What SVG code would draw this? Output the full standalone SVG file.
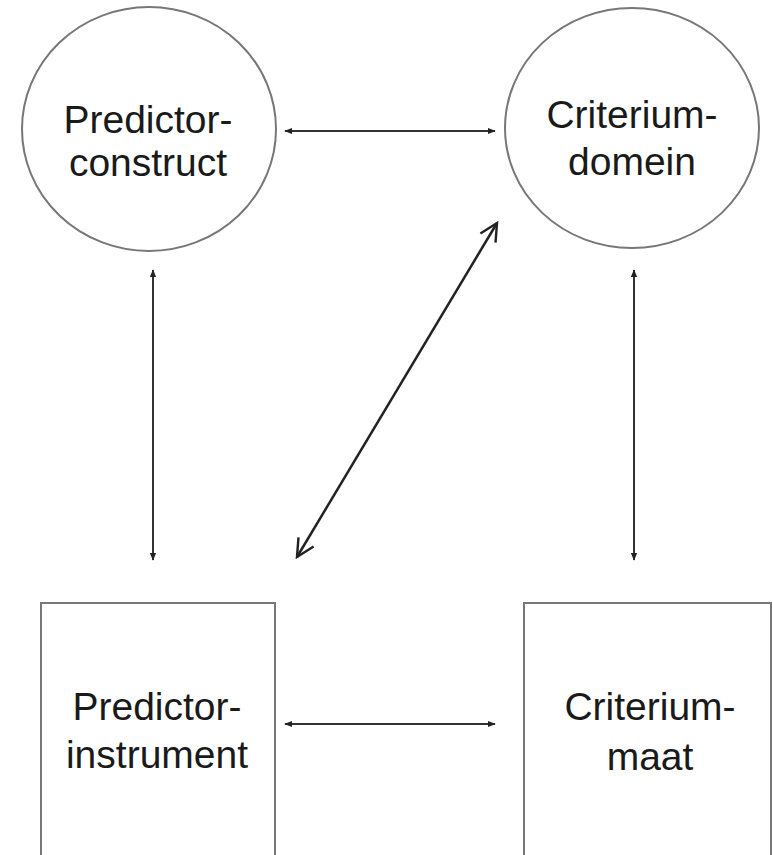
<svg xmlns="http://www.w3.org/2000/svg" width="773" height="855" viewBox="0 0 773 855">
<style>
.node{fill:#fff;stroke:#777;stroke-width:2}
.lbl{font-family:"Liberation Sans",Arial,sans-serif;font-size:39px;fill:#1a1a1a;text-anchor:middle}
.thin{stroke:#333;stroke-width:2;fill:none}
.thick{stroke:#222;stroke-width:2.5;fill:none}
</style>
<defs>
<marker id="sm" viewBox="0 0 10 10" refX="9" refY="5" markerWidth="8" markerHeight="8" orient="auto-start-reverse" markerUnits="userSpaceOnUse">
<path d="M0,1 L10,5 L0,9 Z" fill="#222"/>
</marker>
<marker id="open" viewBox="0 0 20 20" refX="18" refY="10" markerWidth="22" markerHeight="22" orient="auto-start-reverse" markerUnits="userSpaceOnUse">
<path d="M2,2 L18,10 L2,18" fill="none" stroke="#222" stroke-width="2.2"/>
</marker>
</defs>
<rect width="773" height="855" fill="#fff"/>
<g id="predictor-construct">
<ellipse class="node" cx="149" cy="129" rx="127" ry="122"/>
<text class="lbl" x="148" y="133">Predictor-</text>
<text class="lbl" x="148" y="176">construct</text>
</g>
<g id="criterium-domein">
<ellipse class="node" cx="632" cy="128" rx="127" ry="120"/>
<text class="lbl" x="632" y="128">Criterium-</text>
<text class="lbl" x="632" y="175">domein</text>
</g>
<g id="predictor-instrument">
<rect class="node" x="41" y="603" width="234" height="260"/>
<text class="lbl" x="157" y="720">Predictor-</text>
<text class="lbl" x="157" y="768">instrument</text>
</g>
<g id="criterium-maat">
<rect class="node" x="524" y="603" width="247" height="260"/>
<text class="lbl" x="650" y="720">Criterium-</text>
<text class="lbl" x="650" y="770">maat</text>
</g>
<g id="connectors">
<line class="thin" x1="285" y1="131" x2="495" y2="131" marker-start="url(#sm)" marker-end="url(#sm)"/>
<line class="thin" x1="285" y1="724" x2="495" y2="724" marker-start="url(#sm)" marker-end="url(#sm)"/>
<line class="thin" x1="153" y1="270" x2="153" y2="560" stroke-width="1.5" marker-start="url(#sm)" marker-end="url(#sm)"/>
<line class="thin" x1="634" y1="270" x2="634" y2="560" stroke-width="1.5" marker-start="url(#sm)" marker-end="url(#sm)"/>
<line class="thick" x1="297" y1="557" x2="497" y2="223" marker-start="url(#open)" marker-end="url(#open)"/>
</g>
</svg>
